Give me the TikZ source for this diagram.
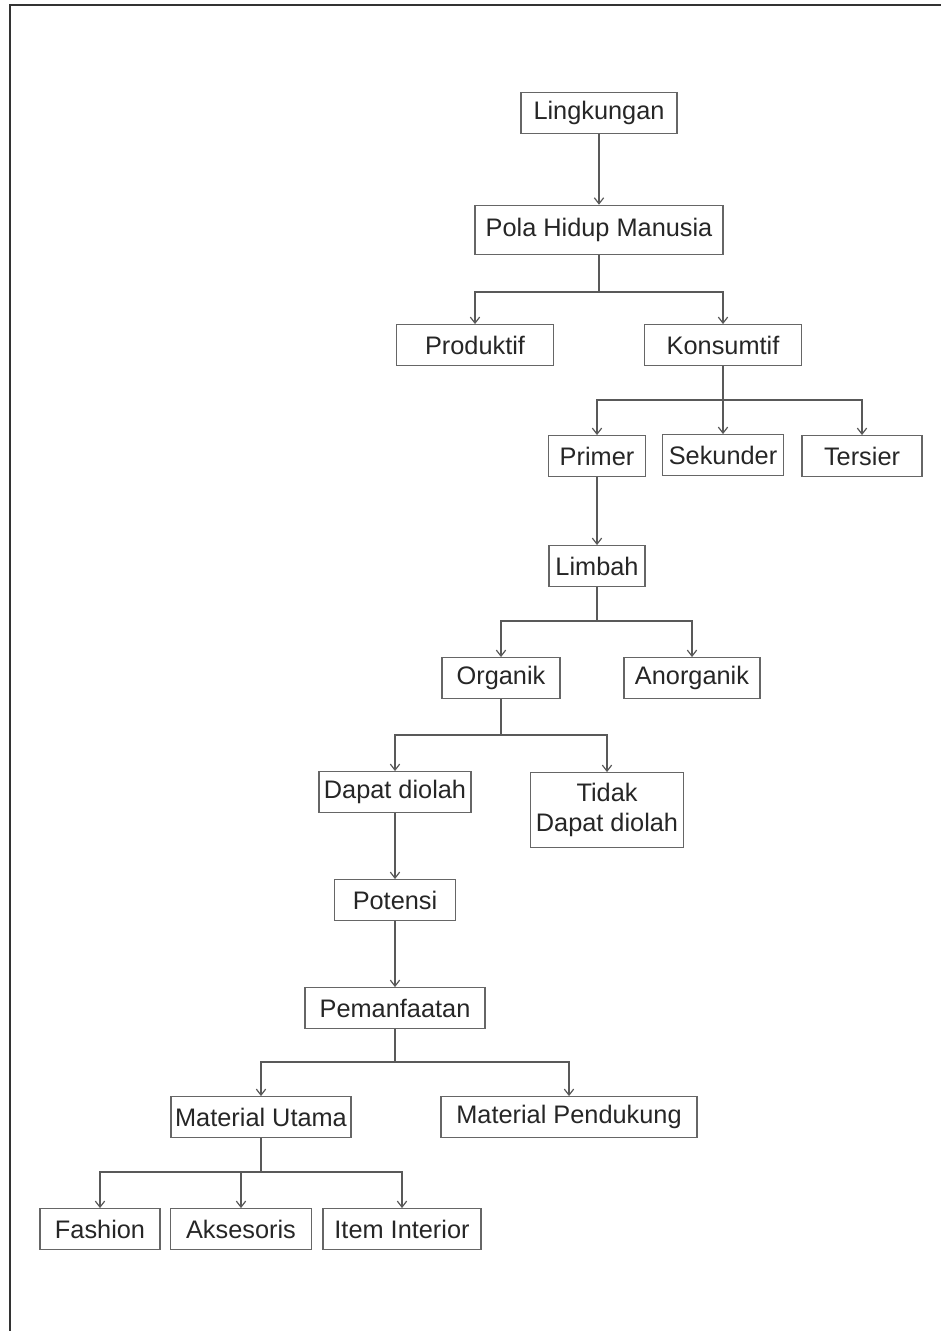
\documentclass[tikz,border=0pt]{standalone}
\usepackage{fontspec}
\setmainfont{Liberation Sans}
\usepackage{tikz}
\usetikzlibrary{arrows.meta}

\begin{document}
\begin{tikzpicture}[
    x=0.75pt, y=-0.75pt,
    box/.style={rectangle, draw=black!60, line width=0.9pt, minimum height=30.5pt, inner sep=2pt, align=center, text=black!85, font=\fontsize{19}{22.5}\selectfont},
    link/.style={draw=black!65, line width=0.9pt},
    arrow/.style={link, ->, >={Straight Barb[length=4.5pt,width=7pt]}}
]
\useasboundingbox (0,0) rectangle (941,1331);
% page edge
\draw[black!80, line width=1.5pt] (10,1331) -- (10,5) -- (941,5);

\node[box, minimum width=117pt] (lingkungan) at (599,113) {Lingkungan};
\node[box, minimum width=186pt, minimum height=37pt] (pola) at (599,230) {Pola Hidup Manusia};
\node[box, minimum width=118pt] (produktif) at (475,345) {Produktif};
\node[box, minimum width=118pt] (konsumtif) at (723,345) {Konsumtif};

\node[box, minimum width=73pt] (primer) at (597,456) {Primer};
\node[box, minimum width=91pt] (sekunder) at (723,455) {Sekunder};
\node[box, minimum width=90pt] (tersier) at (862,456) {Tersier};

\node[box, minimum width=72pt] (limbah) at (597,566) {Limbah};
\node[box, minimum width=88.5pt] (organik) at (501,678) {Organik};
\node[box, minimum width=102pt] (anorganik) at (692,678) {Anorganik};

\node[box, minimum width=114pt] (dapat) at (395,792) {Dapat diolah};
\node[box, minimum width=115pt, minimum height=56pt] (tidak) at (607,810) {Tidak\\Dapat diolah};
\node[box, minimum width=91pt] (potensi) at (395,900) {Potensi};
\node[box, minimum width=135pt] (manfaat) at (395,1008) {Pemanfaatan};

\node[box, minimum width=135pt] (utama) at (261,1117) {Material Utama};
\node[box, minimum width=192pt] (pendukung) at (569,1117) {Material Pendukung};
\node[box, minimum width=90pt] (fashion) at (100,1229) {Fashion};
\node[box, minimum width=106pt] (aksesoris) at (241,1229) {Aksesoris};
\node[box, minimum width=118.5pt] (interior) at (402,1229) {Item Interior};

% branch points
\coordinate (jpola) at (599,292);
\coordinate (jkons) at (723,400);
\coordinate (jlimbah) at (597,621);
\coordinate (jorg) at (501,735);
\coordinate (jmanfaat) at (395,1062);
\coordinate (jutama) at (261,1172);

\draw[arrow] (lingkungan) -- (pola);

\draw[link] (pola) -- (jpola);
\draw[arrow] (jpola) -| (produktif);
\draw[arrow] (jpola) -| (konsumtif);

\draw[link] (konsumtif) -- (jkons);
\draw[arrow] (jkons) -| (primer);
\draw[arrow] (jkons) -- (sekunder);
\draw[arrow] (jkons) -| (tersier);

\draw[arrow] (primer) -- (limbah);

\draw[link] (limbah) -- (jlimbah);
\draw[arrow] (jlimbah) -| (organik);
\draw[arrow] (jlimbah) -| (anorganik);

\draw[link] (organik) -- (jorg);
\draw[arrow] (jorg) -| (dapat);
\draw[arrow] (jorg) -| (tidak);

\draw[arrow] (dapat) -- (potensi);
\draw[arrow] (potensi) -- (manfaat);

\draw[link] (manfaat) -- (jmanfaat);
\draw[arrow] (jmanfaat) -| (utama);
\draw[arrow] (jmanfaat) -| (pendukung);

\draw[link] (utama) -- (jutama);
\draw[arrow] (jutama) -| (fashion);
\draw[arrow] (jutama) -| (aksesoris);
\draw[arrow] (jutama) -| (interior);
\end{tikzpicture}
\end{document}
